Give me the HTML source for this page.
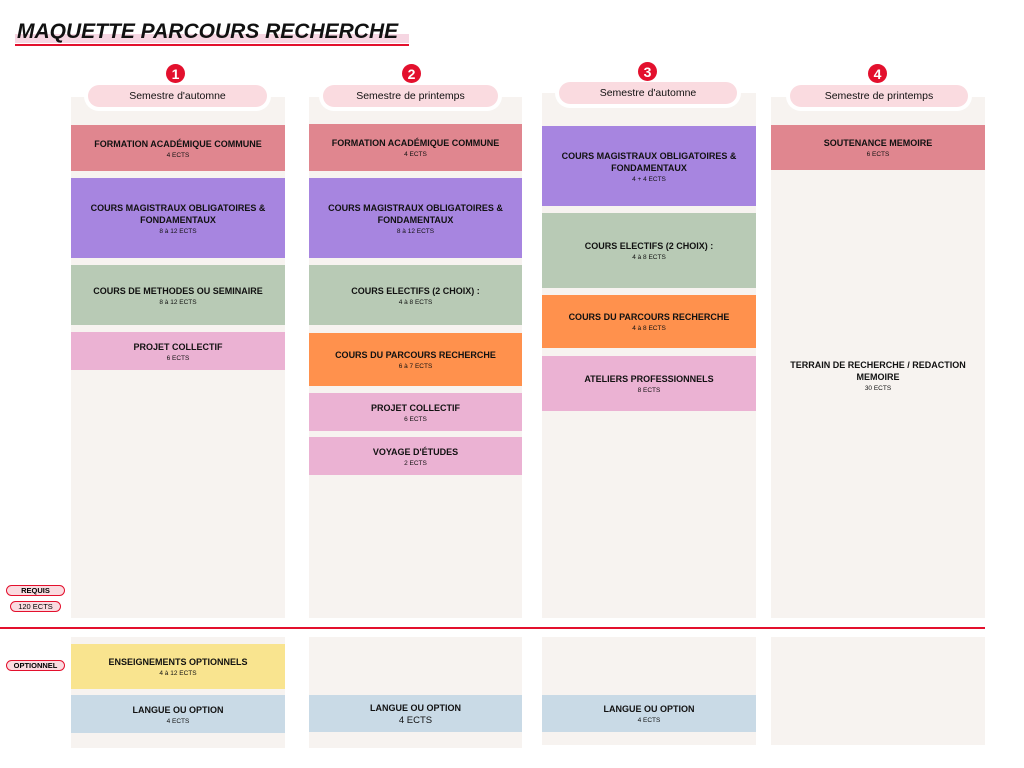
<!DOCTYPE html>
<html><head><meta charset="utf-8"><style>
body{margin:0;width:1024px;height:768px;background:#fff;position:relative;font-family:"Liberation Sans",Arial,sans-serif;overflow:hidden}
.a{position:absolute}
.col{position:absolute;background:#f7f3f0}
.b{position:absolute;display:flex;flex-direction:column;align-items:center;justify-content:center;text-align:center;color:#111}
.t{font-weight:bold;font-size:9px;line-height:12px}
.s{font-size:6.5px;margin-top:2px}
.pill{position:absolute;height:22px;border-radius:11px;background:#fadbe0;box-shadow:0 0 0 4px #fff;font-size:10.5px;display:flex;align-items:center;justify-content:center;color:#111}
.num{position:absolute;z-index:5;width:19px;height:19px;border-radius:50%;background:#e3102d;color:#fff;font-weight:bold;font-size:14px;display:flex;align-items:center;justify-content:center}
.tag{position:absolute;border:1.5px solid #e3102d;border-radius:8px;background:#fadbe0;font-size:7.5px;display:flex;align-items:center;justify-content:center;height:9px}
</style></head><body>
<div class="a" style="left:15px;top:34px;width:394px;height:9px;background:#f6d6e2"></div>
<div class="a" style="left:15px;top:44px;width:394px;height:2px;background:#e3102d"></div>
<div class="a" style="left:17px;top:20px;font-size:21px;font-weight:bold;font-style:italic;color:#111">MAQUETTE PARCOURS RECHERCHE</div>

<div class="col" style="left:71px;top:97px;width:214px;height:521px"></div>
<div class="col" style="left:309px;top:97px;width:213px;height:521px"></div>
<div class="col" style="left:542px;top:93px;width:214px;height:525px"></div>
<div class="col" style="left:771px;top:97px;width:214px;height:521px"></div>

<div class="col" style="left:71px;top:637px;width:214px;height:111px"></div>
<div class="col" style="left:309px;top:637px;width:213px;height:111px"></div>
<div class="col" style="left:542px;top:637px;width:214px;height:108px"></div>
<div class="col" style="left:771px;top:637px;width:214px;height:108px"></div>

<div class="a" style="left:0;top:627px;width:985px;height:1.5px;background:#e3102d"></div>

<div class="pill" style="left:88px;top:85px;width:179px">Semestre d'automne</div>
<div class="pill" style="left:323px;top:85px;width:175px">Semestre de printemps</div>
<div class="pill" style="left:559px;top:82px;width:178px">Semestre d'automne</div>
<div class="pill" style="left:790px;top:85px;width:178px">Semestre de printemps</div>
<div class="num" style="left:166px;top:64px">1</div>
<div class="num" style="left:402px;top:64px">2</div>
<div class="num" style="left:638px;top:62px">3</div>
<div class="num" style="left:868px;top:64px">4</div>

<div class="b" style="left:71px;top:125px;width:214px;height:46px;background:#e0868f"><div class="t">FORMATION ACADÉMIQUE COMMUNE</div><div class="s">4 ECTS</div></div>
<div class="b" style="left:71px;top:178px;width:214px;height:80px;background:#a785e0"><div class="t">COURS MAGISTRAUX OBLIGATOIRES &amp;<br>FONDAMENTAUX</div><div class="s">8 à 12 ECTS</div></div>
<div class="b" style="left:71px;top:265px;width:214px;height:60px;background:#b8cab5"><div class="t">COURS DE METHODES OU SEMINAIRE</div><div class="s">8 à 12 ECTS</div></div>
<div class="b" style="left:71px;top:332px;width:214px;height:38px;background:#ebb2d3"><div class="t">PROJET COLLECTIF</div><div class="s">6 ECTS</div></div>

<div class="b" style="left:309px;top:124px;width:213px;height:47px;background:#e0868f"><div class="t">FORMATION ACADÉMIQUE COMMUNE</div><div class="s">4 ECTS</div></div>
<div class="b" style="left:309px;top:178px;width:213px;height:80px;background:#a785e0"><div class="t">COURS MAGISTRAUX OBLIGATOIRES &amp;<br>FONDAMENTAUX</div><div class="s">8 à 12 ECTS</div></div>
<div class="b" style="left:309px;top:265px;width:213px;height:60px;background:#b8cab5"><div class="t">COURS ELECTIFS (2 CHOIX) :</div><div class="s">4 à 8 ECTS</div></div>
<div class="b" style="left:309px;top:333px;width:213px;height:53px;background:#ff914d"><div class="t">COURS DU PARCOURS RECHERCHE</div><div class="s">6 à 7 ECTS</div></div>
<div class="b" style="left:309px;top:393px;width:213px;height:38px;background:#ebb2d3"><div class="t">PROJET COLLECTIF</div><div class="s">6 ECTS</div></div>
<div class="b" style="left:309px;top:437px;width:213px;height:38px;background:#ebb2d3"><div class="t">VOYAGE D'ÉTUDES</div><div class="s">2 ECTS</div></div>

<div class="b" style="left:542px;top:126px;width:214px;height:80px;background:#a785e0"><div class="t">COURS MAGISTRAUX OBLIGATOIRES &amp;<br>FONDAMENTAUX</div><div class="s">4 + 4 ECTS</div></div>
<div class="b" style="left:542px;top:213px;width:214px;height:75px;background:#b8cab5"><div class="t">COURS ELECTIFS (2 CHOIX) :</div><div class="s">4 à 8 ECTS</div></div>
<div class="b" style="left:542px;top:295px;width:214px;height:53px;background:#ff914d"><div class="t">COURS DU PARCOURS RECHERCHE</div><div class="s">4 à 8 ECTS</div></div>
<div class="b" style="left:542px;top:356px;width:214px;height:55px;background:#ebb2d3"><div class="t">ATELIERS PROFESSIONNELS</div><div class="s">8 ECTS</div></div>

<div class="b" style="left:771px;top:125px;width:214px;height:45px;background:#e0868f"><div class="t">SOUTENANCE MEMOIRE</div><div class="s">6 ECTS</div></div>
<div class="b" style="left:771px;top:355px;width:214px;height:40px"><div class="t">TERRAIN DE RECHERCHE / REDACTION<br>MEMOIRE</div><div class="s">30 ECTS</div></div>

<div class="b" style="left:71px;top:644px;width:214px;height:45px;background:#f9e48f"><div class="t">ENSEIGNEMENTS OPTIONNELS</div><div class="s">4 à 12 ECTS</div></div>
<div class="b" style="left:71px;top:695px;width:214px;height:38px;background:#c9dae6"><div class="t">LANGUE OU OPTION</div><div class="s">4 ECTS</div></div>
<div class="b" style="left:309px;top:695px;width:213px;height:37px;background:#c9dae6"><div class="t">LANGUE OU OPTION</div><div style="font-size:9.5px;margin-top:1px">4 ECTS</div></div>
<div class="b" style="left:542px;top:695px;width:214px;height:37px;background:#c9dae6"><div class="t">LANGUE OU OPTION</div><div class="s">4 ECTS</div></div>

<div class="tag" style="left:6px;top:585px;width:57px;font-weight:bold">REQUIS</div>
<div class="tag" style="left:10px;top:601px;width:49px">120 ECTS</div>
<div class="tag" style="left:6px;top:660px;width:57px;font-weight:bold">OPTIONNEL</div>
</body></html>
